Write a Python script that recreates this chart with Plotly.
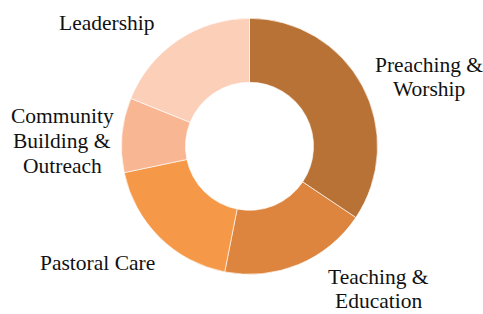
import plotly.graph_objects as go

categories = ["Preaching & Worship", "Teaching & Education", "Pastoral Care",
              "Community Building & Outreach", "Leadership"]
values = [34.4, 18.7, 18.6, 9.4, 18.9]
colors = ["#B97235", "#DD853E", "#F59847", "#F8B693", "#FBCFB8"]

label_lines = [["Preaching &", "Worship"], ["Teaching &", "Education"], ["Pastoral Care"],
               ["Community", "Building &", "Outreach"], ["Leadership"]]
label_pos = [(429, 77), (378, 289), (97, 263), (62, 141), (107, 23)]
line_gap = 24.5

W, H = 483, 314
cx, cy, r = 249.5, 146.3, 128

fig = go.Figure(go.Pie(
    labels=categories, values=values, sort=False, direction="clockwise",
    rotation=0, hole=0.5, textinfo="none", hoverinfo="label+percent",
    marker=dict(colors=colors, line=dict(color="rgba(255,255,255,0.8)", width=0.8)),
    domain=dict(x=[(cx - r) / W, (cx + r) / W], y=[(H - cy - r) / H, (H - cy + r) / H]),
    showlegend=False,
))

for lines, (x, y) in zip(label_lines, label_pos):
    n = len(lines)
    for i, t in enumerate(lines):
        yy = y + (i - (n - 1) / 2) * line_gap
        fig.add_annotation(text=t, x=x / W, y=1 - yy / H, xref="paper", yref="paper",
                           showarrow=False, xanchor="center", yanchor="middle",
                           font=dict(family="Liberation Serif", size=21.5, color="#111111"))

fig.update_layout(width=W, height=H, margin=dict(l=0, r=0, t=0, b=0),
                  paper_bgcolor="white", plot_bgcolor="white")
fig.write_html("out.html", config={"displayModeBar": False},
               post_script="document.body.style.margin='0';document.body.style.overflow='hidden';")
